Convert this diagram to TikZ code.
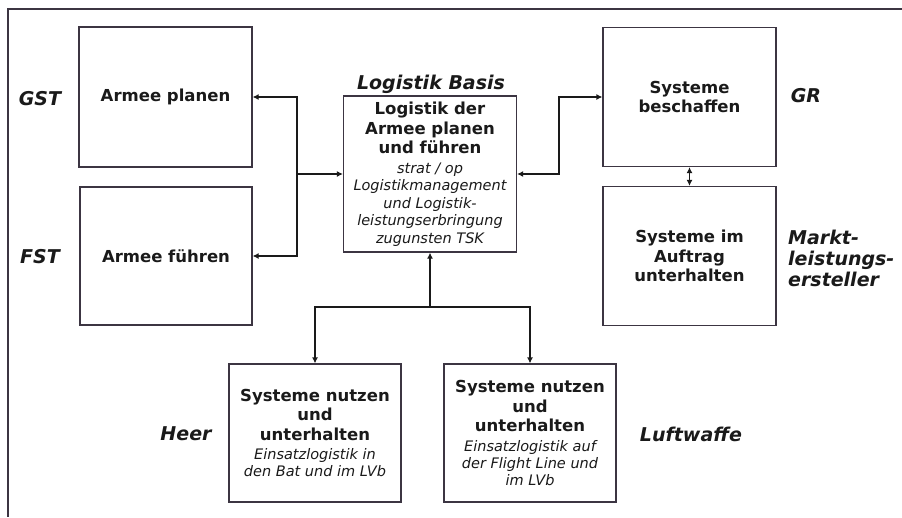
\documentclass[tikz,border=0pt]{standalone}
\usepackage{fontspec}
\setmainfont{DejaVu Sans}
\usetikzlibrary{arrows.meta}
\definecolor{frame}{HTML}{3C3542}
\definecolor{ink}{HTML}{1A1A1A}
\newcommand{\smit}[1]{{\fontsize{14.5}{17.5}\selectfont\mdseries\itshape #1}}
\tikzset{
  box/.style={draw=frame, line width=1.2pt, minimum width=173pt, minimum height=139pt,
    align=center, inner sep=0pt, text=ink, font=\fontsize{16.5}{19.5}\selectfont\bfseries},
  lab/.style={text=ink, font=\fontsize{19}{21}\selectfont\bfseries\itshape, inner sep=0pt},
  conn/.style={draw=ink, line width=1.3pt},
  tip/.style={-{Latex[length=6pt,width=6pt]}},
  tips/.style={{Latex[length=6pt,width=6pt]}-{Latex[length=6pt,width=6pt]}}
}
\begin{document}
\begin{tikzpicture}[x=1pt,y=-1pt]
\useasboundingbox (0,0) rectangle (902,517);
\fill[white] (0,0) rectangle (902,517);
\draw[draw=frame, line width=1.2pt] (902,9) -- (8,9) -- (8,517);

\node[box, minimum width=173pt, minimum height=140pt] (plan) at (165.5,97) {Armee planen};
\node[box, minimum width=172pt, minimum height=138pt] (fuehr) at (166,256) {Armee führen};
\node[box, minimum height=156pt] (central) at (430,174) {Logistik der\\Armee planen\\und führen\\\smit{strat / op}\\[-2pt]\smit{Logistikmanagement}\\[-2pt]\smit{und Logistik-}\\[-2pt]\smit{leistungserbringung}\\[-2pt]\smit{zugunsten TSK}};
\node[box] (besch) at (689.5,97) {Systeme\\beschaffen};
\node[box] (auftrag) at (689.5,256) {Systeme im\\Auftrag\\unterhalten};
\node[box, minimum width=172pt, minimum height=138pt] (heer) at (315,433) {Systeme nutzen\\und\\unterhalten\\\smit{Einsatzlogistik in}\\[-2.5pt]\smit{den Bat und im LVb}};
\node[box, minimum width=172pt, minimum height=138pt] (luft) at (530,433) {Systeme nutzen\\und\\unterhalten\\\smit{Einsatzlogistik auf}\\[-2.5pt]\smit{der Flight Line und}\\[-2.5pt]\smit{im LVb}};

\node[lab] (gst) at (40,99) {GST};
\node[lab] (fst) at (40,257) {FST};
\node[lab] (gr) at (806,96) {GR};
\node[lab, align=left, anchor=west] (markt) at (788,258) {Markt-\\leistungs-\\ersteller};
\node[lab] (basis) at (431,84) {Logistik Basis};
\node[lab] (heerl) at (186,434) {Heer};
\node[lab] (luftl) at (691,434) {Luftwaffe};

\coordinate (jl) at (297,174);
\coordinate (jr) at (559,174);
\coordinate (jb) at (430,307);

\draw[conn, tip] (jl) |- (plan.east);
\draw[conn, tip] (jl) |- (fuehr.east);
\draw[conn, tip] (jl) -- (central.west);
\draw[conn, tips] (central.east) -- (jr) |- (besch.west);
\draw[conn, tips] (besch.south) -- (auftrag.north);
\draw[conn, tip] (jb) -- (central.south);
\draw[conn, tip] (jb) -| (heer.north);
\draw[conn, tip] (jb) -| (luft.north);
\end{tikzpicture}
\end{document}
